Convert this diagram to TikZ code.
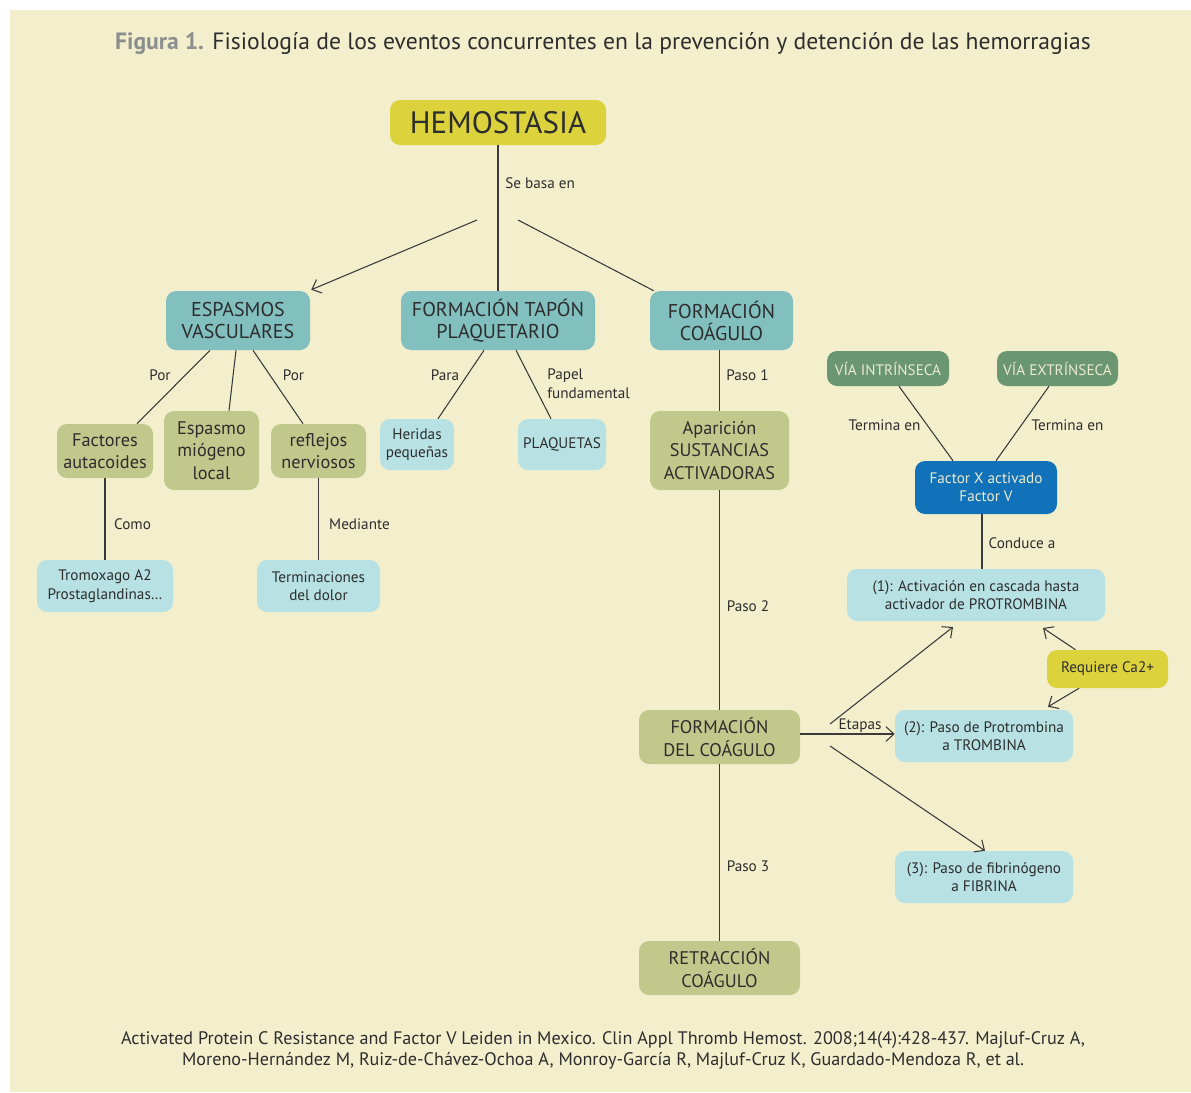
\documentclass[tikz,border=0pt]{standalone}
\usepackage{fontspec}
\setmainfont{PT Sans}
\usetikzlibrary{arrows.meta,calc}
\definecolor{bg}{HTML}{F3EFCD}
\definecolor{yel}{HTML}{DBD23C}
\definecolor{teal}{HTML}{82BFBF}
\definecolor{olive}{HTML}{C0C88C}
\definecolor{lblue}{HTML}{B7E1E3}
\definecolor{dkgreen}{HTML}{6B9672}
\definecolor{fblue}{HTML}{1172BA}
\definecolor{txt}{HTML}{2D2D2D}
\definecolor{lighttxt}{HTML}{ECEBCF}
\definecolor{figgray}{HTML}{8A8F8E}
\definecolor{ln}{HTML}{3A3A3A}
\begin{document}
\begin{tikzpicture}[x=0.75pt,y=-0.75pt,
  bx/.style 2 args={rounded corners=7.5pt, minimum width=#1*0.75pt, minimum height=#2*0.75pt, inner sep=0pt, align=center, text=txt},
  big/.style={font=\fontsize{15}{16.5}\selectfont},
  mid/.style={font=\fontsize{13.7}{16.8}\selectfont},
  sml/.style={font=\fontsize{11.4}{13.8}\selectfont},
  lbl/.style={font=\fontsize{11.4}{14.3}\selectfont, text=txt, inner sep=0pt, align=left},
  con/.style={draw=ln, line width=0.8pt},
  arr/.style={draw=ln, line width=0.8pt, -{Straight Barb[length=6pt,width=11pt]}}
]
\useasboundingbox (0,0) rectangle (1191,1092);
\fill[white] (0,0) rectangle (1191,1092);
\fill[bg] (10,10) rectangle (1191,1092);

% title
\node[font=\fontsize{17.7}{20}\selectfont, text=txt, inner sep=0pt] (title) at (603,44)
  {\textcolor{figgray}{\textbf{Figura 1.}} Fisiología de los eventos concurrentes en la prevención y detención de las hemorragias};

% nodes
\node[bx={216}{45}, fill=yel, font=\fontsize{23.2}{24}\selectfont] (hemo) at (498,122.5) {HEMOSTASIA};
\node[bx={144}{59}, fill=teal, big] (esp) at (238,320.5) {ESPASMOS\\VASCULARES};
\node[bx={194}{59}, fill=teal, big] (tap) at (498,320.5) {FORMACIÓN TAPÓN\\PLAQUETARIO};
\node[bx={143}{59}, fill=teal, big] (coag) at (721.5,320.5) {FORMACIÓN\\COÁGULO};

\node[bx={96}{54}, fill=olive, mid] (fact) at (105,451) {Factores\\autacoides};
\node[bx={95}{79}, fill=olive, mid] (mio) at (211.5,450.5) {Espasmo\\miógeno\\local};
\node[bx={95}{54}, fill=olive, mid] (refl) at (318.5,451) {reflejos\\nerviosos};
\node[bx={136}{52}, fill=lblue, sml] (trom) at (105,586) {Tromoxago A2\\Prostaglandinas…};
\node[bx={123}{52}, fill=lblue, sml] (term) at (318.5,586) {Terminaciones\\del dolor};
\node[bx={74}{51}, fill=lblue, sml] (her) at (417,444.5) {Heridas\\pequeñas};
\node[bx={88}{51}, fill=lblue, sml] (plaq) at (562,444.5) {PLAQUETAS};

\node[bx={139}{79}, fill=olive, mid] (apar) at (719.5,450.5) {Aparición\\SUSTANCIAS\\ACTIVADORAS};
\node[bx={161}{54}, fill=olive, mid] (fdc) at (719.5,737) {FORMACIÓN\\DEL COÁGULO};
\node[bx={161}{54}, fill=olive, mid] (retr) at (719.5,968) {RETRACCIÓN\\COÁGULO};

\node[bx={122}{35}, fill=dkgreen, sml, text=lighttxt] (vin) at (888,368.5) {VÍA INTRÍNSECA};
\node[bx={121}{35}, fill=dkgreen, sml, text=lighttxt] (vex) at (1057.5,368.5) {VÍA EXTRÍNSECA};
\node[bx={142}{53}, fill=fblue, sml, text=lighttxt] (fx) at (986,487.5) {Factor X activado\\Factor V};
\node[bx={258}{52}, fill=lblue, sml] (s1) at (976,595) {(1): Activación en cascada hasta\\activador de PROTROMBINA};
\node[bx={121}{38}, fill=yel, sml] (ca) at (1107.5,669) {Requiere Ca2+};
\node[bx={178}{52}, fill=lblue, sml] (s2) at (984,736) {(2): Paso de Protrombina\\a TROMBINA};
\node[bx={178}{52}, fill=lblue, sml] (s3) at (984,877) {(3): Paso de fibrinógeno\\a FIBRINA};

% free ends
\coordinate (a1) at (477,220);
\coordinate (a2) at (518,220);
\coordinate (e1) at (830,724);
\coordinate (e1t) at (953,627);
\coordinate (e3) at (830,746);
\coordinate (cat) at (1043,628);

% connectors
\draw[con] (hemo.south) -- (tap.north);
\draw[arr] (a1) -- ($(esp.north east)+(1,-1)$);
\draw[con] (a2) -- ($(coag.north west)+(4,0)$);

\draw[con] ($(esp.south)+(-28,0)$) -- ($(fact.north)+(32,0)$);
\draw[con] ($(esp.south)+(-2,0)$) -- ($(mio.north)+(17.5,0)$);
\draw[con] ($(esp.south)+(15,0)$) -- ($(refl.north)+(-15.5,0)$);
\draw[con] (fact.south) -- (trom.north);
\draw[con] (refl.south) -- (term.north);
\draw[con] ($(tap.south)+(-14,0)$) -- ($(her.north)+(21,0)$);
\draw[con] ($(tap.south)+(18,0)$) -- ($(plaq.north)+(-11,0)$);

\draw[con] (apar.north) -- (apar.north |- coag.south);
\draw[con] (apar.south) -- (fdc.north);
\draw[con] (fdc.south) -- (retr.north);

\draw[con] ($(vin.south)+(11,0)$) -- ($(fx.north)+(-33,0)$);
\draw[con] ($(vex.south)+(-8.5,0)$) -- ($(fx.north)+(10,0)$);
\draw[con] ($(fx.south)+(-4,0)$) -- ($(s1.north)+(6,0)$);

\draw[arr] (e1) -- (e1t);
\draw[arr] ($(fdc.east)+(0,-3)$) -- ($(s2.west)+(0,-2)$);
\draw[arr] (e3) -- ($(s3.north)+(1,0)$);
\draw[arr] ($(ca.north)+(-32,0)$) -- (cat);
\draw[arr] ($(ca.south)+(-28.5,0)$) -- ($(s2.north)+(64,-3)$);

% labels
\node[lbl, anchor=west] (l1) at (505,183) {Se basa en};
\node[lbl] (l2) at (160,375) {Por};
\node[lbl] (l3) at (293.5,375) {Por};
\node[lbl] (l4) at (132.5,524) {Como};
\node[lbl] (l5) at (359.5,524) {Mediante};
\node[lbl] (l6) at (445,375) {Para};
\node[lbl, anchor=north west] (l7) at (547,368) {Papel\\fundamental};
\node[lbl] (l8) at (747.5,375) {Paso 1};
\node[lbl] (l9) at (748,606) {Paso 2};
\node[lbl] (l10) at (748,866) {Paso 3};
\node[lbl] (l11) at (884.5,425) {Termina en};
\node[lbl] (l12) at (1067.5,425) {Termina en};
\node[lbl] (l13) at (1022,543) {Conduce a};
\node[lbl] (l14) at (860,726) {Etapas};

% reference
\node[font=\fontsize{13.6}{15.8}\selectfont, text=txt, align=center, inner sep=0pt] (ref) at (603,1050.5)
  {Activated Protein C Resistance and Factor V Leiden in Mexico. Clin Appl Thromb Hemost. 2008;14(4):428-437. Majluf-Cruz A,\\
   Moreno-Hernández M, Ruiz-de-Chávez-Ochoa A, Monroy-García R, Majluf-Cruz K, Guardado-Mendoza R, et al.};
\end{tikzpicture}
\end{document}
